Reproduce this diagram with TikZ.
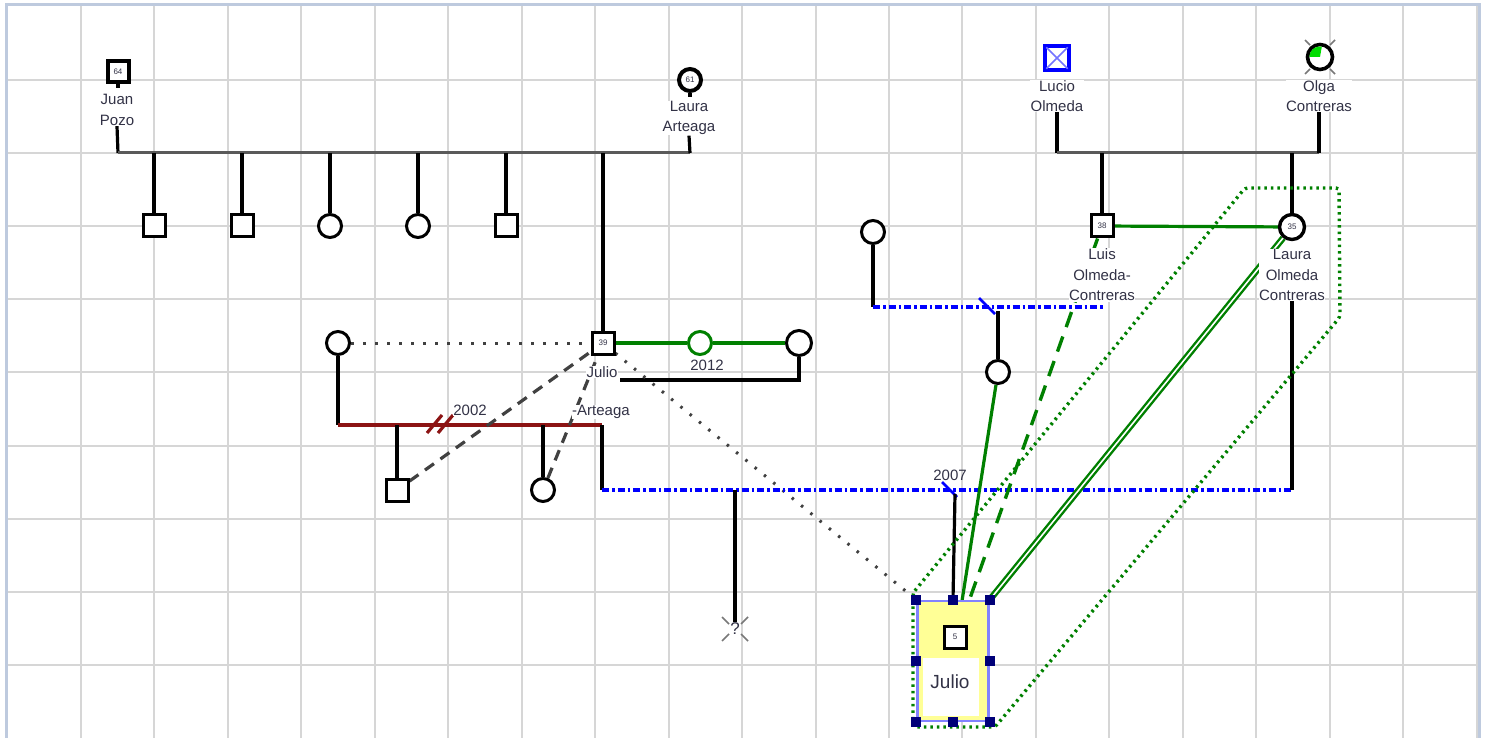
\documentclass[tikz,border=0pt]{standalone}
\usepackage{fontspec}
\setmainfont{Liberation Sans}
\usetikzlibrary{calc}
\pgfdeclarelayer{gridlayer}
\pgfdeclarelayer{edges}
\pgfsetlayers{gridlayer,edges,main}
\definecolor{gridc}{RGB}{214,214,214}
\definecolor{framec}{RGB}{190,202,222}
\definecolor{textc}{RGB}{50,50,70}
\definecolor{grayl}{RGB}{90,90,90}
\definecolor{greenc}{RGB}{0,128,0}
\definecolor{greenq}{RGB}{0,220,0}
\definecolor{redc}{RGB}{140,20,20}
\definecolor{bluec}{RGB}{0,0,255}
\definecolor{boxblue}{RGB}{130,130,255}
\definecolor{yellowc}{RGB}{255,255,150}
\definecolor{navyc}{RGB}{0,0,120}
\definecolor{dotc}{RGB}{65,65,65}
\definecolor{tickc}{RGB}{120,120,120}
\begin{document}
\begin{tikzpicture}[x=1pt,y=-1pt,line width=3pt,
  sym/.style={draw=black,fill=white,line width=3pt,inner sep=0pt,font=\fontsize{8}{8}\selectfont,text=textc},
  msym/.style={sym,rectangle,minimum size=22pt},
  fsym/.style={sym,circle,minimum size=23pt},
  lbl/.style={font=\fontsize{15}{20.5}\selectfont,text=textc,align=center,inner sep=0.5pt,fill=white},
  gridline/.style={draw=gridc,line width=2pt},
  plain/.style={draw=black,line width=3.2pt},
  grayline/.style={draw=grayl,line width=3pt},
  greenline/.style={draw=greenc,line width=3.2pt},
  greendash/.style={draw=greenc,line width=3.4pt,dash pattern=on 16pt off 10pt},
  greendouble/.style={draw=greenc,line width=2.4pt,double=white,double distance=1.6pt},
  redline/.style={draw=redc,line width=3.2pt},
  blueline/.style={draw=bluec,line width=3.4pt,dash pattern=on 7pt off 3pt on 2.5pt off 3pt},
  dotblk/.style={draw=dotc,line width=3pt,dash pattern=on 2.5pt off 9.5pt},
  dashblk/.style={draw=dotc,line width=3.2pt,dash pattern=on 11pt off 8pt},
  hull/.style={draw=greenc,line width=3.4pt,dash pattern=on 2.5pt off 4pt,rounded corners=3pt},
  tick/.style={draw=tickc,line width=1.5pt},
  handle/.style={fill=navyc}]
\useasboundingbox (0,0) rectangle (1489,738);
\begin{pgfonlayer}{gridlayer}
  \fill[white] (0,0) rectangle (1489,738);
  \foreach \i in {0,...,19} \draw[gridline] ({81+73.45*\i},5) -- ({81+73.45*\i},738);
  \foreach \j in {0,...,8} \draw[gridline] (6,{80+73.1*\j}) -- (1479,{80+73.1*\j});
  \draw[framec,line width=3pt] (6,738) -- (6,5) -- (1479,5) -- (1479,738);
\end{pgfonlayer}

% ---------- Pozo / Arteaga family ----------
\node[msym,line width=4pt,minimum size=21pt] (juan) at (118,72) {64};
\draw[plain] (juan.south) -- ++(0,4);
\node[lbl] (juanl) at (117,110) {Juan\\Pozo};
\node[fsym,line width=4pt,minimum size=22pt] (laura) at (690,80) {61};
\draw[plain] (laura.south) -- ++(0,4);
\node[lbl] (laural) at (689,118) {Laura\\Arteaga};
\coordinate (jp) at (118,153);
\coordinate (la) at (690,153);

\node[msym] (c1) at (154,226) {};
\node[msym] (c2) at (242,226) {};
\node[fsym] (c3) at (330,226) {};
\node[fsym] (c4) at (418,226) {};
\node[msym] (c5) at (506,226) {};

\node[msym] (j39) at (603,343) {39};
\node[lbl] (j39l) at (602,372) {Julio};
\node[lbl] (j39a) at (601,412) {-Arteaga};

\node[fsym,draw=greenc] (g12) at (700,343) {};
\node[fsym,minimum size=25pt] (w1) at (799,343) {};
\node[lbl] (l2012) at (707,365) {2012};
\coordinate (b1) at (620,380);

\node[fsym] (wl) at (338,343) {};
\coordinate (r1) at (338,425);
\coordinate (r2) at (602,425);
\coordinate (r3) at (602,490);
\node[msym] (s2) at (397,490) {};
\node[fsym] (f2) at (543,490) {};
\node[lbl] (l2002) at (470,410) {2002};

\coordinate (q1) at (735,490);
\node[font=\fontsize{17}{17}\selectfont,text=textc,inner sep=1pt] (qm) at (735,629) {?};
\draw[tick] (722,617) -- (729,624) (748,617) -- (741,624) (722,641) -- (729,634) (748,641) -- (741,634);

% ---------- Olmeda / Contreras family ----------
\node[msym,draw=bluec,line width=3.4pt,minimum size=24pt] (lucio) at (1057,58) {};
\draw[bluec!55,line width=1.6pt] ($(lucio.north west)+(3,3)$) -- ($(lucio.south east)+(-3,-3)$)
  ($(lucio.north east)+(-3,3)$) -- ($(lucio.south west)+(3,-3)$);
\node[lbl] (luciol) at (1057,96) {Lucio\\Olmeda};

\node[fsym,line width=3.6pt,minimum size=25pt] (olga) at (1320,57) {};
\fill[greenq] (olga.center) -- ++(-10.6,0) arc[start angle=180,end angle=280,radius=10.6] -- cycle;
\draw[tick] (1305,40) -- (1310,45) (1335,40) -- (1330,45) (1305,74) -- (1310,69) (1335,74) -- (1330,69);
\node[lbl] (olgal) at (1319,96) {Olga\\Contreras};
\coordinate (ol1) at (1057,153);

\node[msym] (luis) at (1102,226) {38};
\node[fsym,line width=3.4pt,minimum size=25pt] (laurao) at (1292,227) {35};
\node[lbl] (luisl) at (1102,275) {Luis\\Olmeda-\\Contreras};
\node[lbl] (lauraol) at (1292,275) {Laura\\Olmeda\\Contreras};

\node[fsym] (fz) at (873,232) {};
\coordinate (bl1) at (873,307);
\coordinate (bl2) at (1103,307);
\coordinate (bl3) at (998,311);
\node[fsym] (f3) at (998,372) {};

\node[lbl,fill=none] (l2007) at (950,475) {2007};
\coordinate (b2007) at (955,494);

% ---------- selected person box ----------
\node[draw=boxblue,fill=yellowc,line width=2.5pt,minimum width=71pt,minimum height=120pt,inner sep=0pt] (jbox) at (953,661) {};
\node[msym] (j5) at (955,637) {5};
\node[fill=white,minimum width=56pt,minimum height=58pt,inner sep=0pt] (jlbg) at (951,687) {};
\node[font=\fontsize{19}{19}\selectfont,text=textc,inner sep=0pt] (jl) at (950,682) {Julio};
\foreach \a in {north west,north,north east,west,east,south west,south,south east}
  \fill[handle] ($(jbox.\a)+(-5,-5)$) rectangle ($(jbox.\a)+(5,5)$);
\coordinate (jd) at (969,601);
\coordinate (js) at (962,601);

% ---------- connectors ----------
\begin{pgfonlayer}{edges}
\begin{scope}[line width=3pt]
  \draw[plain] (juanl.south) -- (jp);
  \draw[grayline] (jp) -- (la);
  \draw[plain] (laural.south) -- (la);
  \foreach \c in {c1,c2,c3,c4,c5,j39} \draw[plain] (\c.north) -- (\c.north |- jp);
  \draw[greenline] (j39) -- (g12) -- (w1);
  \draw[plain] (b1) -| (w1.south);
  \draw[dotblk] (wl) -- (j39);
  \draw[plain] (wl.south) -- (r1);
  \draw[redline] (r1) -- (r2);
  \draw[redline] (427,433) -- (442,415) (438,433) -- (453,415);
  \draw[plain] (r2) -- (r3);
  \draw[plain] (s2.north) -- (s2.north |- r1);
  \draw[plain] (f2.north) -- (f2.north |- r1);
  \draw[dashblk] (s2) -- (j39);
  \draw[dashblk] (f2) -- (j39);
  \draw[dotblk] (j39) -- (jbox.north west);
  \draw[blueline] (r3) -- (lauraol.south |- r3);
  \draw[plain] (q1) -- (qm.north);
  \draw[bluec,line width=2.6pt] (942,482) -- (957,497);
  \draw[plain] (b2007) -- (jbox.north);
  \draw[plain] (luciol.south) -- (ol1);
  \draw[grayline] (ol1) -- (olgal.south |- ol1);
  \draw[plain] (olgal.south) -- (olgal.south |- ol1);
  \draw[plain] (luis.north) -- (luis.north |- ol1);
  \draw[plain] (laurao.north) -- (laurao.north |- ol1);
  \draw[greenline] (luis) -- (laurao);
  \draw[plain] (lauraol.south) -- (lauraol.south |- r3);
  \draw[plain] (fz.south) -- (bl1);
  \draw[blueline] (bl1) -- (bl2);
  \draw[bluec,line width=2.6pt] (979,298) -- (995,314);
  \draw[plain] (bl3) -- (f3.north);
  \draw[greenline] (f3) -- (js);
  \draw[greendash] (luis) -- (jd);
  \draw[greendouble] (laurao) -- (jbox.north east);
  \draw[hull] (913,593) -- (1245,188) -- (1339,188) -- (1340,317) -- (995,727) -- (913,727) -- cycle;
\end{scope}
\end{pgfonlayer}
\end{tikzpicture}
\end{document}
